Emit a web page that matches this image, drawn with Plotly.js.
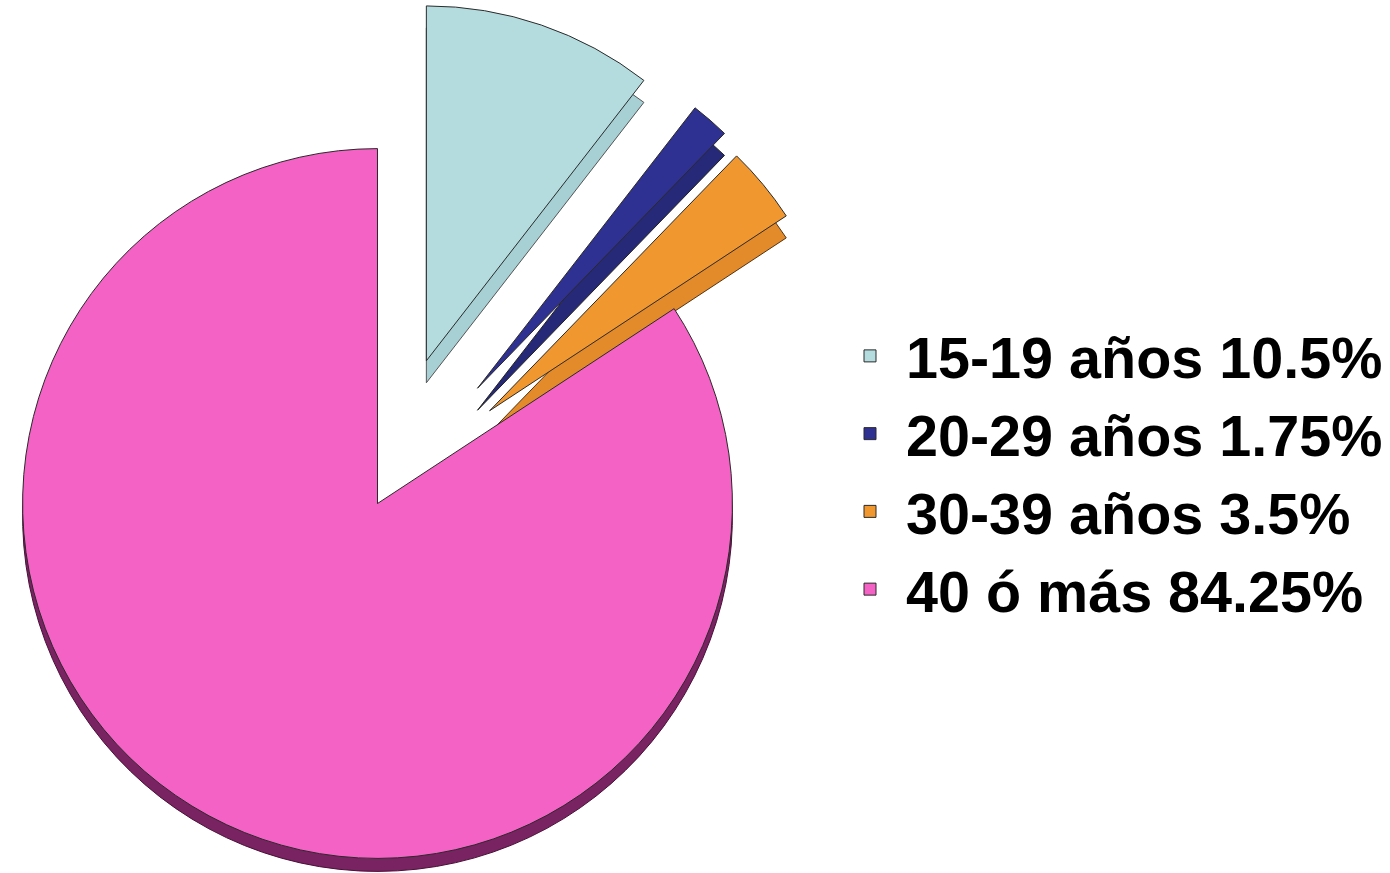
<!DOCTYPE html>
<html>
<head>
<meta charset="utf-8">
<script src="https://cdn.plot.ly/plotly-3.0.1.min.js"></script>
<style>
html,body{margin:0;padding:0;background:#fff;overflow:hidden;width:1390px;height:873px;}
#chart{position:absolute;left:-130px;top:-4px;width:1522px;height:1045px;}
</style>
</head>
<body>
<div id="chart"></div>
<script>
var categories = ['15-19 años', '20-29 años', '30-39 años', '40 ó más'];
var values = [10.5, 1.75, 3.5, 84.25];
var pulls = [0.425, 0.43, 0.41, 0];
var topColors = ['#b4dcdf', '#2f3192', '#f1972f', '#f562c5'];
var sideColors = ['#a6d0d3', '#262978', '#e38a2a', '#7a2363'];

var legendLabels = categories.map(function (c, i) { return c + ' ' + values[i] + '%'; });

var W = 1522, H = 1045, BOX = 1015, BASE = 30;
function dom(d) { return {x: [0, BOX / W], y: [(BASE - d) / H, (H - d) / H]}; }

var clear = 'rgba(0,0,0,0)';
var pulledSide = {
  type: 'pie', labels: legendLabels, values: values, pull: pulls,
  sort: false, direction: 'clockwise', rotation: 0,
  textinfo: 'none', hoverinfo: 'skip', showlegend: false,
  marker: {colors: [sideColors[0], sideColors[1], sideColors[2], clear],
           line: {color: ['#555', '#222', '#553311', clear], width: 1}},
  domain: dom(22)
};
var pinkSide = {
  type: 'pie', labels: legendLabels, values: values, pull: pulls,
  sort: false, direction: 'clockwise', rotation: 0,
  textinfo: 'none', hoverinfo: 'skip', showlegend: false,
  marker: {colors: [clear, clear, clear, sideColors[3]],
           line: {color: [clear, clear, clear, '#4a1038'], width: 1}},
  domain: dom(13)
};
var main = {
  type: 'pie', labels: legendLabels, values: values, pull: pulls,
  sort: false, direction: 'clockwise', rotation: 0,
  textinfo: 'none',
  marker: {colors: topColors, line: {color: '#2a2a2a', width: 1}},
  domain: dom(0)
};

var layout = {
  width: W, height: H,
  margin: {l: 0, r: 0, t: 0, b: 0},
  paper_bgcolor: '#ffffff',
  showlegend: true,
  legend: {
    x: (834 + 130) / W, xanchor: 'left',
    y: 1 - (312 + 4) / H, yanchor: 'top',
    font: {family: 'Liberation Sans, Arial, sans-serif', size: 57.5, color: '#000', weight: 'bold'},
    bgcolor: 'rgba(0,0,0,0)',
    itemwidth: 62,
    traceorder: 'normal'
  }
};

Plotly.newPlot('chart', [pulledSide, pinkSide, main], layout, {displayModeBar: false, staticPlot: true});
</script>
</body>
</html>
